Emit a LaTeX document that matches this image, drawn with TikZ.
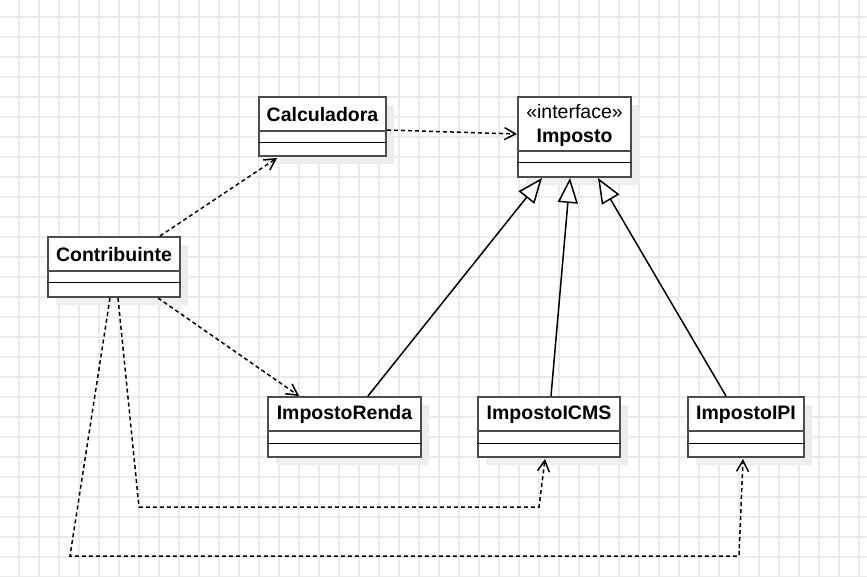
\documentclass[tikz,border=0pt]{standalone}
\usepackage{fontspec}
\setmainfont{Liberation Sans}
\usetikzlibrary{arrows.meta,calc,shadows}

\begin{document}
\begin{tikzpicture}[
  x=1pt, y=-1pt,
  gridline/.style={draw=black!8, line width=1.2pt},
  umlbox/.style={draw=black!70, line width=2pt, fill=white, inner sep=0pt,
    drop shadow={shadow xshift=8pt, shadow yshift=-8pt, fill=black!7, opacity=1}},
  umltitle/.style={font=\fontsize{19.5}{24}\selectfont\bfseries, align=center, inner sep=0pt},
  sep/.style={draw=black!70, line width=2pt},
  septhin/.style={draw=black, line width=1pt},
  dep/.style={-{Straight Barb[length=11pt,width=12pt]}, dash pattern=on 4pt off 3pt, line width=1.5pt},
  inh/.style={-{Triangle[length=25pt,width=20pt,fill=white]}, line width=1.5pt},
]
% Background grid
\fill[white] (0,0) rectangle (867,577);
\useasboundingbox (0,0) rectangle (867,577);
\foreach \gx in {19,39,...,859} \draw[gridline] (\gx,0) -- (\gx,577);
\foreach \gy in {17,37,...,577} \draw[gridline] (0,\gy) -- (867,\gy);

% Classes
\node[umlbox, minimum width=127pt, minimum height=59pt] (calc) at (322.5,126.5) {};
\node[umltitle] (calc-t) at (322.5,114.5) {Calculadora};
\draw[sep] ([yshift=-35pt]calc.north west) -- ([yshift=-35pt]calc.north east);
\draw[septhin] ([yshift=-47pt]calc.north west) -- ([yshift=-47pt]calc.north east);

\node[umlbox, minimum width=113pt, minimum height=80pt] (imposto) at (574.5,137) {};
\node[umltitle] (imposto-t) at (574.5,125) {{\mdseries «interface»}\\Imposto};
\draw[sep] ([yshift=-55pt]imposto.north west) -- ([yshift=-55pt]imposto.north east);
\draw[septhin] ([yshift=-67pt]imposto.north west) -- ([yshift=-67pt]imposto.north east);

\node[umlbox, minimum width=132pt, minimum height=60pt] (contrib) at (114,267) {};
\node[umltitle] (contrib-t) at (114,254.5) {Contribuinte};
\draw[sep] ([yshift=-35pt]contrib.north west) -- ([yshift=-35pt]contrib.north east);
\draw[septhin] ([yshift=-47pt]contrib.north west) -- ([yshift=-47pt]contrib.north east);

\node[umlbox, minimum width=153pt, minimum height=60pt] (renda) at (344.5,427) {};
\node[umltitle] (renda-t) at (344.5,414.5) {ImpostoRenda};
\draw[sep] ([yshift=-35pt]renda.north west) -- ([yshift=-35pt]renda.north east);
\draw[septhin] ([yshift=-47pt]renda.north west) -- ([yshift=-47pt]renda.north east);

\node[umlbox, minimum width=142pt, minimum height=60pt] (icms) at (549,427) {};
\node[umltitle] (icms-t) at (549,414.5) {ImpostoICMS};
\draw[sep] ([yshift=-35pt]icms.north west) -- ([yshift=-35pt]icms.north east);
\draw[septhin] ([yshift=-47pt]icms.north west) -- ([yshift=-47pt]icms.north east);

\node[umlbox, minimum width=116pt, minimum height=60pt] (ipi) at (746,427) {};
\node[umltitle] (ipi-t) at (746,414.5) {ImpostoIPI};
\draw[sep] ([yshift=-35pt]ipi.north west) -- ([yshift=-35pt]ipi.north east);
\draw[septhin] ([yshift=-47pt]ipi.north west) -- ([yshift=-47pt]ipi.north east);

% Dependencies
\coordinate (icms-b1) at (139,507);
\coordinate (icms-b2) at (539,507);
\coordinate (ipi-b1) at (70,556);
\coordinate (ipi-b2) at (739,556);
\draw[dep] ($(calc.east)+(0,3.5)$) -- ($(imposto.west)+(0,-3)$);
\draw[dep] ($(contrib.north)+(46,0)$) -- ($(calc.south)+(-45.5,1)$);
\draw[dep] ($(contrib.south)+(44,0)$) -- ($(renda.north)+(-45.5,0)$);
\draw[dep] ($(contrib.south)+(4,0)$) -- (icms-b1) -- (icms-b2) -- ($(icms.south)+(-4,1)$);
\draw[dep] ($(contrib.south)+(-4,0)$) -- (ipi-b1) -- (ipi-b2) -- ($(ipi.south)+(-3,1)$);

% Generalizations
\draw[inh] ($(renda.north)+(23.5,0)$) -- ($(imposto.south)+(-32.5,0)$);
\draw[inh] ($(icms.north)+(2,0)$) -- ($(imposto.south)+(-4.5,0)$);
\draw[inh] ($(ipi.north)+(-20,0)$) -- ($(imposto.south)+(23.5,0)$);
\end{tikzpicture}
\end{document}
